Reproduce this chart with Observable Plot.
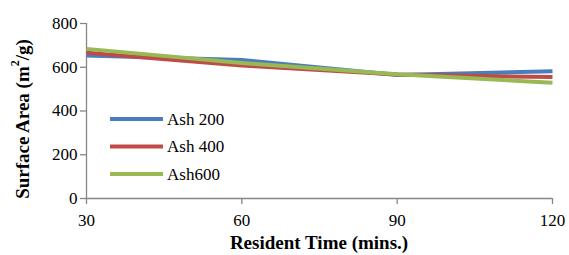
<!DOCTYPE html>
<html><head><meta charset="utf-8">
<script src="https://cdn.jsdelivr.net/npm/d3@7"></script>
<script src="https://cdn.jsdelivr.net/npm/@observablehq/plot@0.6"></script>
<style>
body{margin:0;background:#fff;}
</style></head><body><div id="chart"></div>
<script>
const times = [30, 60, 90, 120];
const seriesNames = ["Ash 200", "Ash 400", "Ash600"];
const ash200 = [654, 633, 565, 582];
const ash400 = [666, 608, 567, 555];
const ash600 = [684, 619, 568, 529];
const colors = ["#4A7EBB", "#BE4B48", "#98B954"];
const yTicks = [0, 200, 400, 600, 800];
const xTicks = [30, 60, 90, 120];

const values = [ash200, ash400, ash600];
const data = [];
seriesNames.forEach((s, i) => times.forEach((t, j) => data.push({series: s, t, v: values[i][j]})));

const FONT = "Liberation Serif";
const axisColor = "#868686";
const plot = Plot.plot({
  width: 569, height: 255,
  marginLeft: 86, marginTop: 23, marginBottom: 57, marginRight: 17,
  style: {background: "#fff", fontSize: "17px", fontFamily: "Liberation Serif"},
  x: {type: "linear", domain: [30, 120], ticks: xTicks, label: null},
  y: {type: "linear", domain: [0, 800], ticks: yTicks, label: null},
  color: {domain: seriesNames, range: colors},
  marks: [
    Plot.ruleX([30], {stroke: axisColor, strokeWidth: 1.3}),
    Plot.ruleY([0], {stroke: axisColor, strokeWidth: 1.3}),
    Plot.axisY({ticks: yTicks, tickSize: 6, stroke: axisColor, strokeWidth: 1.3, fontSize: 17, fill: "#000", tickPadding: 3, label: null}),
    Plot.axisX({ticks: xTicks, tickSize: 6, stroke: axisColor, strokeWidth: 1.3, fontSize: 17, fill: "#000", tickPadding: 9, label: null}),
    Plot.line(data, {x: "t", y: "v", z: "series", stroke: "series", strokeWidth: 4, strokeLinecap: "butt"})
  ]
});

const svg = d3.select(plot);
svg.attr("font-family", FONT).style("font-family", FONT);
svg.selectAll("text").attr("font-family", FONT).style("font-family", FONT).style("font-size", "17px").attr("fill", "#000");
// axis titles
svg.append("text").attr("transform", "translate(22,119) rotate(-90)")
  .attr("text-anchor", "middle").attr("dominant-baseline", "central")
  .style("font-size", "19px").style("font-weight", "bold").attr("fill", "#000")
  .attr("font-family", FONT).style("font-family", FONT)
  .call(t => { t.append("tspan").text("Surface Area (m");
               t.append("tspan").style("font-size", "12px").attr("dy", -7).text("2");
               t.append("tspan").attr("dy", 7).text("/g)"); });
svg.append("text").attr("x", 319).attr("y", 242)
  .attr("text-anchor", "middle").attr("dominant-baseline", "central")
  .style("font-size", "19px").style("font-weight", "bold").attr("fill", "#000")
  .attr("font-family", FONT).style("font-family", FONT)
  .text("Resident Time (mins.)");
// legend
const lg = svg.append("g");
seriesNames.forEach((s, i) => {
  const y = 119 + i * 27.5;
  lg.append("line").attr("x1", 110).attr("x2", 163).attr("y1", y).attr("y2", y)
    .attr("stroke", colors[i]).attr("stroke-width", 4);
  lg.append("text").attr("x", 167).attr("y", y).attr("dominant-baseline", "central")
    .attr("text-anchor", "start")
    .style("font-size", "17px").attr("fill", "#000")
    .attr("font-family", FONT).style("font-family", FONT).text(s);
});
document.getElementById("chart").append(plot);
</script></body></html>
